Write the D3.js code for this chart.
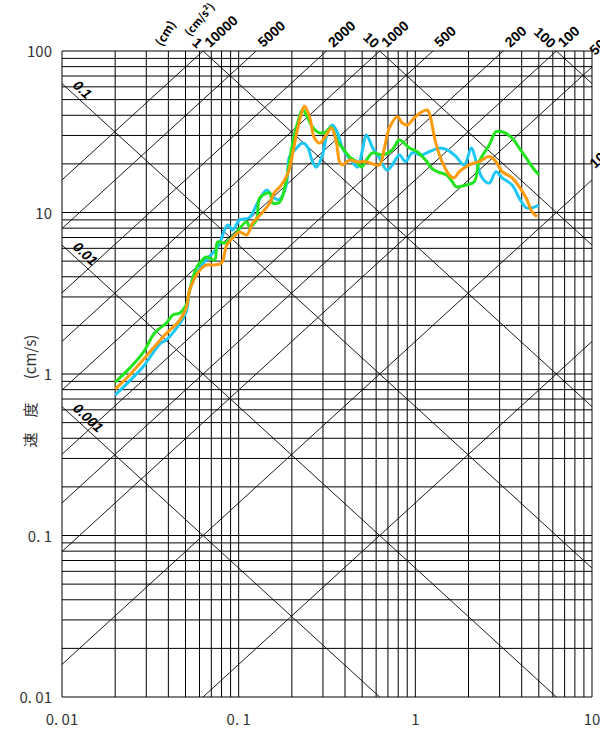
<!DOCTYPE html>
<html>
<head>
<meta charset="utf-8">
<script src="https://cdn.jsdelivr.net/npm/d3@7/dist/d3.min.js"></script>
<style>
  body { margin: 0; background: #fff; }
  text { font-family: "Noto Sans CJK JP", "Noto Sans", sans-serif; }
</style>
</head>
<body>
<div id="my_dataviz"></div>
<script>
// response spectra: [period (s), velocity (cm/s)]
var greenSeries = [[0.02,0.89],[0.024,1.08],[0.0287,1.35],[0.0335,1.80],[0.039,2.07],[0.0424,2.32],[0.0465,2.39],
  [0.0505,2.68],[0.0528,3.31],[0.0575,4.53],[0.0603,4.87],[0.0655,5.30],[0.0731,5.08],[0.076,6.57],[0.0834,6.47],
  [0.0925,7.05],[0.111,8.78],[0.115,8.13],[0.126,8.99],[0.1316,12.3],[0.150,13.2],[0.1556,11.45],[0.1707,11.6],
  [0.186,15.9],[0.202,26.9],[0.2155,35.8],[0.230,43.5],[0.242,40],[0.262,33.8],[0.287,31.1],[0.31,31.5],[0.335,33.8],
  [0.358,28.1],[0.387,25.1],[0.424,22.1],[0.465,20.6],[0.496,19.1],[0.528,21.1],[0.574,23.4],[0.652,22.7],[0.74,24.4],
  [0.812,28.1],[0.925,25.1],[1.024,23.8],[1.16,20.7],[1.23,18.9],[1.33,17.9],[1.50,17.1],[1.62,15.5],[1.70,14.45],
  [1.94,14.8],[2.155,15.5],[2.30,20.7],[2.62,26.2],[2.86,31.6],[3.10,31.6],[3.53,28.9],[3.87,25.1],[4.24,21.8],
  [4.58,19.2],[5.0,17.1]];

var cyanSeries = [[0.02,0.741],[0.024,0.90],[0.0287,1.105],[0.0362,1.556],[0.0388,1.62],[0.0502,2.39],[0.0528,3.31],
  [0.0603,4.53],[0.076,6.11],[0.0867,8.37],[0.0925,7.80],[0.101,8.99],[0.115,9.3],[0.128,11.5],[0.144,13.8],
  [0.1556,12.5],[0.17,12.0],[0.186,14.8],[0.194,22.1],[0.213,25.1],[0.230,26.9],[0.245,25.5],[0.262,20.6],[0.276,19.1],
  [0.298,22.7],[0.318,31.1],[0.339,34.8],[0.363,31.1],[0.387,25.1],[0.44,20.6],[0.471,19.1],[0.502,24.4],[0.528,30.2],
  [0.574,25.1],[0.626,21.8],[0.69,18.3],[0.74,19.7],[0.812,22.7],[0.88,20.7],[0.962,23.4],[1.08,22.7],[1.20,23.8],
  [1.366,25.1],[1.515,24.4],[1.70,22.2],[1.89,19.7],[2.075,25.1],[2.21,20.7],[2.39,16.4],[2.62,15.2],[2.86,17.9],
  [3.10,16.4],[3.53,14.8],[3.87,12.3],[4.24,10.7],[4.58,10.7],[5.0,11.1]];

var orangeSeries = [[0.02,0.807],[0.024,0.98],[0.0287,1.22],[0.0382,1.744],[0.0465,2.16],[0.0505,2.56],[0.0528,3.31],
  [0.0603,4.40],[0.0655,4.73],[0.0731,4.73],[0.080,4.87],[0.0856,6.29],[0.0925,6.95],[0.101,7.57],[0.111,7.26],
  [0.120,8.61],[0.137,10.07],[0.150,11.45],[0.160,13.4],[0.172,14.5],[0.19,17.5],[0.205,25],[0.213,31.1],[0.227,41.3],
  [0.236,45.6],[0.252,39.0],[0.2685,28.9],[0.287,26.9],[0.31,29.6],[0.335,33.4],[0.358,26.9],[0.3725,20.6],[0.387,19.7],
  [0.424,21.1],[0.465,20.6],[0.528,20.6],[0.626,19.7],[0.668,25.1],[0.713,33.4],[0.792,39.2],[0.844,35.8],[0.90,34.8],
  [0.986,38.5],[1.095,42.1],[1.17,43.1],[1.22,38.5],[1.30,27.4],[1.415,20.7],[1.556,17.1],[1.66,16.4],[1.773,17.9],
  [2.02,19.7],[2.30,20.7],[2.62,22.2],[2.86,20.7],[3.10,17.9],[3.53,16.4],[3.87,14.45],[4.24,12.3],[4.58,10.1],[4.89,9.42]];

// diagonal lines of the tripartite chart
var dispLines = [0.001, 0.01, 0.1, 1, 10, 100];               // cm
var accLines = [1, 10, 50, 100, 200, 500, 1000, 2000, 5000, 10000]; // cm/s2

var xTicks = [0.01, 0.1, 1, 10], xTickLabels = ["0. 01", "0. 1", "1", "10"];
var yTicks = [0.01, 0.1, 1, 10, 100], yTickLabels = ["0. 01", "0. 1", "1", "10", "100"];

// set the dimensions and margins of the graph
var margin = {top: 51, right: 8, bottom: 37, left: 62},
    width = 600 - margin.left - margin.right,
    height = 734 - margin.top - margin.bottom;

var svg = d3.select("#my_dataviz").append("svg")
    .attr("width", 600)
    .attr("height", 734)
  .append("g")
    .attr("transform", "translate(" + margin.left + "," + margin.top + ")");

var x = d3.scaleLog().domain([0.01, 10]).range([0, width]);
var y = d3.scaleLog().domain([0.01, 100]).range([height, 0]);

svg.append("clipPath").attr("id", "clip")
  .append("rect").attr("width", width).attr("height", height);

// log grid
var gridX = [], gridY = [];
[0.01, 0.1, 1].forEach(function(d) { for (var k = 1; k < 10; k++) gridX.push(k * d); });
gridX.push(10);
[0.01, 0.1, 1, 10].forEach(function(d) { for (var k = 1; k < 10; k++) gridY.push(k * d); });
gridY.push(100);

var grid = svg.append("g").attr("stroke", "#000").attr("stroke-width", 1);
grid.selectAll(".vx").data(gridX).enter().append("line")
  .attr("x1", x).attr("x2", x).attr("y1", 0).attr("y2", height);
grid.selectAll(".hy").data(gridY).enter().append("line")
  .attr("y1", y).attr("y2", y).attr("x1", 0).attr("x2", width);

// diagonals
var TWO_PI = 2 * Math.PI;
var diag = svg.append("g").attr("clip-path", "url(#clip)")
  .attr("stroke", "#000").attr("stroke-width", 0.9).attr("fill", "none");
dispLines.forEach(function(D) {
  diag.append("line")
    .attr("x1", x(0.001)).attr("y1", y(TWO_PI * D / 0.001))
    .attr("x2", x(100)).attr("y2", y(TWO_PI * D / 100));
});
accLines.forEach(function(A) {
  diag.append("line")
    .attr("x1", x(0.001)).attr("y1", y(A * 0.001 / TWO_PI))
    .attr("x2", x(100)).attr("y2", y(A * 100 / TWO_PI));
});

var ang = Math.atan((y(1) - y(10)) / (x(10) - x(1))) * 180 / Math.PI;

// displacement labels
dispLines.forEach(function(D) {
  var v0 = TWO_PI * D / 0.01;
  var label = String(D);
  if (v0 <= 100) {
    svg.append("text")
      .attr("transform", "translate(" + 10 + "," + (y(v0) + 3) + ") rotate(" + ang + ")")
      .style("font-family", "Liberation Sans")
      .style("font-size", "14px").style("font-weight", "bold").style("font-style", "italic")
      .text(label);
  } else {
    var tTop = TWO_PI * D / 100;
    svg.append("text")
      .attr("transform", "translate(" + (x(tTop) - 6) + "," + (-2) + ") rotate(" + ang + ")")
      .attr("text-anchor", "end")
      .style("font-family", "Liberation Sans")
      .style("font-size", "14px").style("font-weight", "bold")
      .text(label);
  }
});

// acceleration labels (the two at the right edge run off the page, as in the original)
accLines.filter(function(A) { return A >= 10; }).forEach(function(A) {
  var tTop = TWO_PI * 100 / A;
  var tx, ty;
  if (tTop <= 10) { tx = x(tTop) + 7; ty = -3; }
  else { tx = width + 3; ty = y(A * 10 / TWO_PI) - 11; }
  svg.append("text")
    .attr("transform", "translate(" + tx + "," + ty + ") rotate(" + (-ang) + ")")
    .style("font-family", "Liberation Sans")
    .style("font-size", "14px").style("font-weight", "bold")
    .text(A);
});

// unit labels at the top
svg.append("text")
  .attr("transform", "translate(" + 100 + "," + (-4) + ") rotate(-58)")
  .style("font-size", "12px").style("font-weight", "bold").text("(cm)");
svg.append("text")
  .attr("transform", "translate(" + 128 + "," + (-14) + ") rotate(-50)")
  .style("font-size", "11px").style("font-weight", "bold").text("(cm/s\u00B2)");

// spectra
var line = d3.line()
  .x(function(d) { return x(d[0]); })
  .y(function(d) { return y(d[1]); })
  .curve(d3.curveCatmullRom.alpha(0.5));

[[cyanSeries, "#1ec8f5"], [greenSeries, "#22e41e"], [orangeSeries, "#ff9a0a"]].forEach(function(s) {
  svg.append("path")
    .datum(s[0])
    .attr("fill", "none")
    .attr("stroke", s[1])
    .attr("stroke-width", 3)
    .attr("stroke-linejoin", "round")
    .attr("d", line);
});

// tick labels
svg.selectAll(".xt").data(xTicks).enter().append("text")
  .attr("x", x).attr("y", height + 28)
  .attr("text-anchor", "middle")
  .style("font-size", "15px").style("fill", "#333")
  .text(function(d, i) { return xTickLabels[i]; });

svg.selectAll(".yt").data(yTicks).enter().append("text")
  .attr("x", -10).attr("y", function(d) { return y(d) + 6; })
  .attr("text-anchor", "end")
  .style("font-size", "15px").style("fill", "#333")
  .text(function(d, i) { return yTickLabels[i]; });

// y axis title, spread out like the original
var yTitle = [["速", 389], ["度", 359], ["(cm/s)", 306]];
yTitle.forEach(function(t) {
  svg.append("text")
    .attr("transform", "translate(-26," + t[1] + ") rotate(-90)")
    .attr("text-anchor", "middle")
    .style("font-size", "15px").style("fill", "#333")
    .text(t[0]);
});
</script>
</body>
</html>
